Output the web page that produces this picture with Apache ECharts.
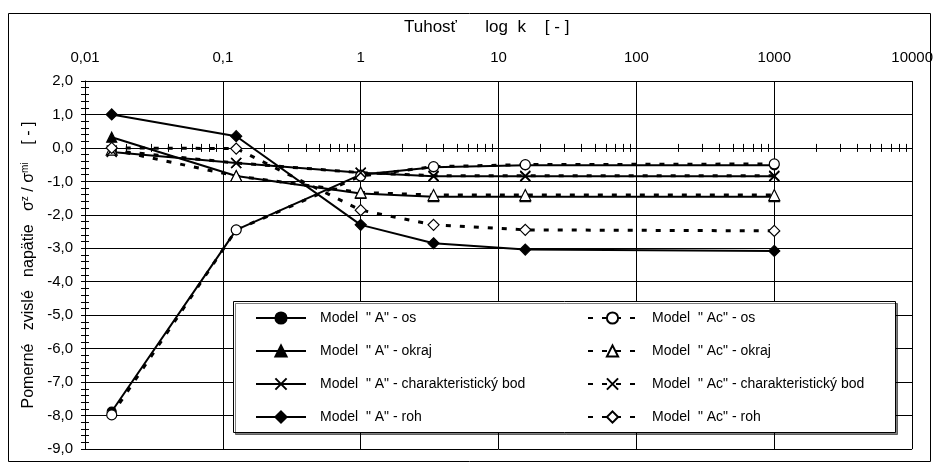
<!DOCTYPE html>
<html><head><meta charset="utf-8">
<script src="https://cdn.jsdelivr.net/npm/echarts@6/dist/echarts.min.js"></script>
<style>html,body{margin:0;padding:0;background:#fff}#c{width:936px;height:467px}</style>
</head><body><div id="c"></div>
<script>
var kValues = [0.015625, 0.125, 1, 3.375, 15.625, 1000];
var A_os = [-7.88, -2.45, -0.8, -0.58, -0.52, -0.52];
var A_okraj = [0.32, -0.84, -1.36, -1.46, -1.46, -1.46];
var A_char = [-0.12, -0.45, -0.74, -0.85, -0.85, -0.85];
var A_roh = [1.0, 0.35, -2.3, -2.85, -3.04, -3.08];
var Ac_os = [-7.98, -2.45, -0.84, -0.56, -0.5, -0.48];
var Ac_okraj = [-0.05, -0.84, -1.33, -1.41, -1.41, -1.41];
var Ac_char = [-0.08, -0.45, -0.74, -0.83, -0.83, -0.83];
var Ac_roh = [0.0, -0.02, -1.86, -2.3, -2.45, -2.48];
var seriesNames = [
  'Model  " A" - os', 'Model  " A" - okraj', 'Model  " A" - charakteristický bod', 'Model  " A" - roh',
  'Model  " Ac" - os', 'Model  " Ac" - okraj', 'Model  " Ac" - charakteristický bod', 'Model  " Ac" - roh'
];
var minorX = [];
for (var e = -2; e < 4; e++) { for (var m = 2; m <= 9; m++) { minorX.push(+(m * Math.pow(10, e)).toPrecision(6)); } }
for (var e2 = -2; e2 <= 4; e2++) minorX.push(+Math.pow(10, e2).toPrecision(6));

function pairs(arr) { return kValues.map(function (k, i) { return [k, arr[i]]; }); }
var xPath = 'path://M0,0L10,10M10,0L0,10';
var F = 'Liberation Sans, Arial, sans-serif';

function mk(name, data, symbol, filled, dashed, size) {
  return {
    name: name, type: 'line', xAxisIndex: 0, yAxisIndex: 0, data: pairs(data),
    symbol: symbol, symbolSize: size, showSymbol: true,
    lineStyle: { color: '#000', width: dashed ? 3 : 2, type: dashed ? [5, 9] : 'solid' },
    itemStyle: { color: filled ? '#000' : '#fff', borderColor: '#000', borderWidth: symbol === xPath ? 1.5 : 1.2 },
    emphasis: { disabled: true }, animation: false, z: dashed ? 3 : 2
  };
}

var chart = echarts.init(document.getElementById('c'), null, { renderer: 'canvas' });
chart.setOption({
  animation: false,
  backgroundColor: '#fff',
  textStyle: { fontFamily: F },
  title: { text: 'Tuhosť      log  k    [ - ]', left: 404, top: 19, padding: 0,
    textStyle: { fontFamily: F, fontSize: 17, fontWeight: 'normal', color: '#000' } },
  grid: { left: 85, right: 19, top: 81, bottom: 18, containLabel: false },
  xAxis: [
    { type: 'log', logBase: 10, min: 0.01, max: 10000, position: 'top',
      axisLine: { show: false, onZero: false }, axisTick: { show: false },
      axisLabel: { show: true, margin: 16, fontSize: 15, color: '#000', fontFamily: F,
        formatter: function (v) { return String(+v.toPrecision(6)).replace('.', ','); } },
      splitLine: { show: true, lineStyle: { color: '#000', width: 1 } } },
    { type: 'log', logBase: 10, min: 0.01, max: 10000, position: 'bottom',
      axisLine: { show: true, onZero: true, lineStyle: { color: '#000', width: 1 } },
      axisTick: { show: true, inside: false, length: 4, customValues: minorX, lineStyle: { color: '#000' } },
      axisLabel: { show: false }, splitLine: { show: false } },
    { type: 'log', logBase: 10, min: 0.01, max: 10000, position: 'bottom',
      axisLine: { show: false, onZero: true },
      axisTick: { show: true, inside: true, length: 4, customValues: minorX, lineStyle: { color: '#000' } },
      axisLabel: { show: false }, splitLine: { show: false } }
  ],
  yAxis: [
    { type: 'value', min: -9, max: 2, interval: 1, position: 'left',
      name: 'Pomerné   zvislé   napätie   σ{s|z} / σ{s|mi}    [ - ]', nameLocation: 'middle', nameGap: 47,
      nameTextStyle: { fontFamily: F, fontSize: 16, color: '#000',
        rich: { s: { fontFamily: F, fontSize: 10, color: '#000', verticalAlign: 'top', padding: [0, 0, 7, 0] } } },
      axisLine: { show: true, onZero: false, lineStyle: { color: '#000', width: 1 } },
      axisTick: { show: true, inside: false, length: 4, lineStyle: { color: '#000' } },
      minorTick: { show: true, splitNumber: 5, length: 4, lineStyle: { color: '#000' } },
      axisLabel: { margin: 12, fontSize: 15, color: '#000', fontFamily: F,
        formatter: function (v) { return v.toFixed(1).replace('.', ','); } },
      splitLine: { show: true, lineStyle: { color: '#000', width: 1 } } },
    { type: 'value', min: -9, max: 2, interval: 1, position: 'left',
      axisLine: { show: false, onZero: false },
      axisTick: { show: true, inside: true, length: 4, lineStyle: { color: '#000' } },
      minorTick: { show: true, splitNumber: 5, length: 4, lineStyle: { color: '#000' } },
      axisLabel: { show: false }, splitLine: { show: false } }
  ],
  legend: [
    { data: seriesNames.slice(0, 4), orient: 'vertical', left: 255, top: 311, padding: 0, itemWidth: 50, itemHeight: 14, itemGap: 19,
      textStyle: { fontFamily: F, fontSize: 14, lineHeight: 14, color: '#000', padding: [0, 0, 0, 9] },
      selectedMode: false, z: 10 },
    { data: seriesNames.slice(4), orient: 'vertical', left: 587, top: 311, padding: 0, itemWidth: 49, itemHeight: 14, itemGap: 19,
      textStyle: { fontFamily: F, fontSize: 14, lineHeight: 14, color: '#000', padding: [0, 0, 0, 10] },
      selectedMode: false, z: 10 }
  ],
  graphic: [
    { type: 'rect', shape: { x: 8.5, y: 13.5, width: 922, height: 448 }, style: { fill: 'none', stroke: '#000', lineWidth: 1 }, z: 1, silent: true },
    { type: 'rect', shape: { x: 233.5, y: 301.5, width: 662, height: 131 },
      style: { fill: '#fff', stroke: '#000', lineWidth: 1, shadowColor: 'rgba(0,0,0,0.5)', shadowOffsetX: 2, shadowOffsetY: 2, shadowBlur: 0 },
      z: 5, silent: true }
  ],
  series: [
    mk(seriesNames[0], A_os, 'circle', true, false, 9),
    mk(seriesNames[1], A_okraj, 'triangle', true, false, 10),
    mk(seriesNames[2], A_char, xPath, true, false, 10),
    mk(seriesNames[3], A_roh, 'diamond', true, false, 11),
    mk(seriesNames[4], Ac_os, 'circle', false, true, 10),
    mk(seriesNames[5], Ac_okraj, 'triangle', false, true, 11),
    mk(seriesNames[6], Ac_char, xPath, false, true, 10),
    mk(seriesNames[7], Ac_roh, 'diamond', false, true, 11)
  ]
});
</script></body></html>
